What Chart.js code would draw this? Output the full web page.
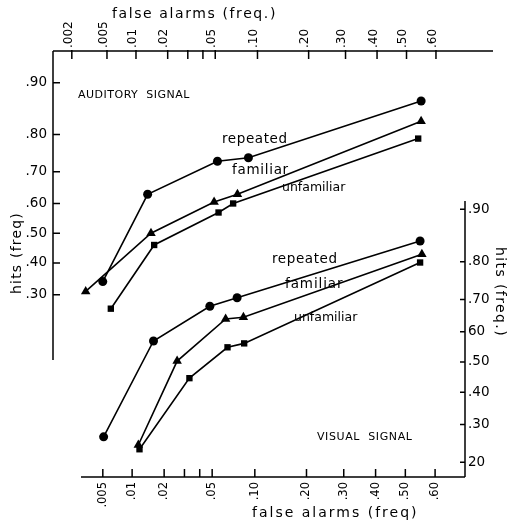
<!DOCTYPE html>
<html>
<head>
<meta charset="utf-8">
<script src="https://cdn.jsdelivr.net/npm/chart.js@4.4.1/dist/chart.umd.min.js"></script>
<style>
  html, body { margin: 0; padding: 0; background: #fff; }
  #wrap { width: 510px; height: 524px; }
</style>
</head>
<body>
<div id="wrap"><canvas id="roc" width="510" height="524"></canvas></div>
<script>
// false alarm / hit frequencies (probability paper)
var audRepFa  = [0.0045, 0.013, 0.052, 0.087, 0.55];
var audRepHit = [0.34, 0.63, 0.73, 0.74, 0.87];
var audFamFa  = [0.0029, 0.014, 0.049, 0.073, 0.55];
var audFamHit = [0.31, 0.50, 0.605, 0.63, 0.83];
var audUnfFa  = [0.0055, 0.015, 0.053, 0.068, 0.54];
var audUnfHit = [0.26, 0.46, 0.57, 0.60, 0.79];

var visRepFa  = [0.0051, 0.016, 0.048, 0.076, 0.55];
var visRepHit = [0.265, 0.57, 0.68, 0.705, 0.845];
var visFamFa  = [0.0115, 0.026, 0.063, 0.084, 0.556];
var visFamHit = [0.243, 0.503, 0.641, 0.646, 0.817];
var visUnfFa  = [0.0118, 0.033, 0.065, 0.085, 0.55];
var visUnfHit = [0.232, 0.446, 0.549, 0.562, 0.798];

// tick values and labels
var topFaTicks  = [0.002, 0.005, 0.01, 0.02, 0.03, 0.04, 0.05, 0.10, 0.20, 0.30, 0.40, 0.50, 0.60];
var topFaLabels = ['.002', '.005', '.01', '.02', '', '', '.05', '.10', '.20', '.30', '.40', '.50', '.60'];
var botFaTicks  = [0.005, 0.01, 0.02, 0.03, 0.04, 0.05, 0.10, 0.20, 0.30, 0.40, 0.50, 0.60];
var botFaLabels = ['.005', '.01', '.02', '', '', '.05', '.10', '.20', '.30', '.40', '.50', '.60'];
var leftHitTicks  = [0.30, 0.40, 0.50, 0.60, 0.70, 0.80, 0.90];
var leftHitLabels = ['.30', '.40', '.50', '.60', '.70', '.80', '.90'];
var rightHitTicks  = [0.20, 0.30, 0.40, 0.50, 0.60, 0.70, 0.80, 0.90];
var rightHitLabels = ['20', '.30', '.40', '.50', '60', '.70', '.80', '.90'];

// inverse normal cdf (Acklam), the axes are normal-deviate scales
function probit(p) {
    var a = [-39.69683028665376, 220.9460984245205, -275.9285104469687, 138.3577518672690, -30.66479806614716, 2.506628277459239];
    var b = [-54.47609879822406, 161.5858368580409, -155.6989798598866, 66.80131188771972, -13.28068155288572];
    var c = [-0.007784894002430293, -0.3223964580411365, -2.400758277161838, -2.549732539343734, 4.374664141464968, 2.938163982698783];
    var d = [0.007784695709041462, 0.3224671290700398, 2.445134137142996, 3.754408661907416];
    var q, r;
    if (p < 0.02425) {
        q = Math.sqrt(-2 * Math.log(p));
        return (((((c[0]*q+c[1])*q+c[2])*q+c[3])*q+c[4])*q+c[5]) / ((((d[0]*q+d[1])*q+d[2])*q+d[3])*q+1);
    }
    if (p > 1 - 0.02425) {
        q = Math.sqrt(-2 * Math.log(1 - p));
        return -(((((c[0]*q+c[1])*q+c[2])*q+c[3])*q+c[4])*q+c[5]) / ((((d[0]*q+d[1])*q+d[2])*q+d[3])*q+1);
    }
    q = p - 0.5;
    r = q * q;
    return (((((a[0]*r+a[1])*r+a[2])*r+a[3])*r+a[4])*r+a[5])*q / (((((b[0]*r+b[1])*r+b[2])*r+b[3])*r+b[4])*r+1);
}

function points(fa, hit) {
    return fa.map(function (f, i) { return { x: probit(f), y: probit(hit[i]) }; });
}

function curve(fa, hit, style, radius, xAxis, yAxis) {
    return {
        data: points(fa, hit),
        showLine: true,
        borderColor: '#000',
        backgroundColor: '#000',
        borderWidth: 1.6,
        pointStyle: style,
        pointRadius: radius,
        pointBorderWidth: 0,
        xAxisID: xAxis,
        yAxisID: yAxis
    };
}

// probit ticks with fixed label list
function probitScale(pos, min, max, tickVals, tickLabels, size, pad, extra) {
    var s = {
        type: 'linear',
        position: pos,
        min: min,
        max: max,
        grid: { display: false, drawTicks: false },
        border: { display: false },
        ticks: {
            autoSkip: false,
            padding: pad,
            color: '#000',
            font: { family: 'DejaVu Sans', size: 13.5 },
            callback: function (v, i) { return tickLabels[i]; }
        },
        afterBuildTicks: function (scale) {
            scale.ticks = tickVals.map(function (p) { return { value: probit(p) }; });
        },
        afterFit: function (scale) {
            if (pos === 'left' || pos === 'right') scale.width = size; else scale.height = size;
        }
    };
    if (extra) Object.assign(s.ticks, extra);
    return s;
}

// axis lines with inward ticks, like the hand-drawn paper
var axesPlugin = {
    id: 'axes',
    afterDraw: function (chart) {
        var ctx = chart.ctx, a = chart.chartArea, sc = chart.scales;
        ctx.save();
        ctx.strokeStyle = '#000';
        ctx.lineWidth = 1.5;
        ctx.beginPath();
        // top
        ctx.moveTo(a.left, a.top); ctx.lineTo(a.right + 28, a.top);
        sc.xTop.ticks.forEach(function (t) {
            var x = sc.xTop.getPixelForValue(t.value);
            ctx.moveTo(x, a.top - 1); ctx.lineTo(x, a.top + 8);
        });
        // left
        ctx.moveTo(a.left, a.top); ctx.lineTo(a.left, a.top + 309);
        sc.yL.ticks.forEach(function (t) {
            var y = sc.yL.getPixelForValue(t.value);
            ctx.moveTo(a.left, y); ctx.lineTo(a.left + 7, y);
        });
        // right
        ctx.moveTo(a.right, a.top + 150); ctx.lineTo(a.right, a.bottom);
        sc.yR.ticks.forEach(function (t) {
            var y = sc.yR.getPixelForValue(t.value);
            ctx.moveTo(a.right, y); ctx.lineTo(a.right - 5, y);
        });
        // bottom
        ctx.moveTo(a.left + 28, a.bottom); ctx.lineTo(a.right, a.bottom);
        sc.xBot.ticks.forEach(function (t) {
            var x = sc.xBot.getPixelForValue(t.value);
            ctx.moveTo(x, a.bottom); ctx.lineTo(x, a.bottom - 8);
        });
        ctx.stroke();
        ctx.restore();
    }
};

// titles and curve names
function note(ctx, text, x, y, size, spacing) {
    ctx.font = size + 'px "DejaVu Sans"';
    ctx.letterSpacing = spacing + 'px';
    ctx.fillText(text, x, y);
}

var textPlugin = {
    id: 'notes',
    afterDraw: function (chart) {
        var ctx = chart.ctx;
        ctx.save();
        ctx.fillStyle = '#000';
        ctx.textBaseline = 'middle';
        ctx.textAlign = 'left';
        note(ctx, 'false alarms (freq.)', 112, 14, 14, 1.6);
        note(ctx, 'false alarms (freq)', 252, 513, 14, 2);
        note(ctx, 'AUDITORY  SIGNAL', 78, 95, 11, 0.5);
        note(ctx, 'VISUAL  SIGNAL', 317, 437, 11, 0.6);
        note(ctx, 'repeated', 222, 139, 13.5, 0.6);
        note(ctx, 'familiar', 232, 170, 13.5, 0.7);
        note(ctx, 'unfamiliar', 282, 188, 12.5, 0);
        note(ctx, 'repeated', 272, 259, 13.5, 0.6);
        note(ctx, 'familiar', 285, 284, 13.5, 0.9);
        note(ctx, 'unfamiliar', 294, 318, 12.5, 0);
        ctx.textAlign = 'center';
        ctx.save();
        ctx.translate(17, 253);
        ctx.rotate(-Math.PI / 2);
        note(ctx, 'hits (freq)', 0, 0, 14, 1.2);
        ctx.restore();
        ctx.save();
        ctx.translate(500, 292);
        ctx.rotate(Math.PI / 2);
        note(ctx, 'hits (freq.)', 0, 0, 14, 1.4);
        ctx.restore();
        ctx.restore();
    }
};

new Chart(document.getElementById('roc'), {
    type: 'scatter',
    data: {
        datasets: [
            curve(audRepFa, audRepHit, 'circle', 4.5, 'xTop', 'yL'),
            curve(audFamFa, audFamHit, 'triangle', 5.5, 'xTop', 'yL'),
            curve(audUnfFa, audUnfHit, 'rect', 4.5, 'xTop', 'yL'),
            curve(visRepFa, visRepHit, 'circle', 4.5, 'xBot', 'yR'),
            curve(visFamFa, visFamHit, 'triangle', 5.5, 'xBot', 'yR'),
            curve(visUnfFa, visUnfHit, 'rect', 4.5, 'xBot', 'yR')
        ]
    },
    options: {
        responsive: false,
        animation: false,
        devicePixelRatio: 1,
        layout: { padding: 0 },
        plugins: { legend: { display: false }, tooltip: { enabled: false } },
        scales: {
            xTop: probitScale('top', -3.04, 0.503, topFaTicks, topFaLabels, 51, 3,
                { minRotation: 90, maxRotation: 90, labelOffset: 11, font: { family: 'DejaVu Sans', size: 12 } }),
            xBot: probitScale('bottom', -3.0, 0.508, botFaTicks, botFaLabels, 47, 5,
                { minRotation: 90, maxRotation: 90, font: { family: 'DejaVu Sans', size: 11.5 } }),
            yL: probitScale('left', -2.078, 1.553, leftHitTicks, leftHitLabels, 53, 6),
            yR: probitScale('right', -0.965, 2.609, rightHitTicks, rightHitLabels, 45, 3)
        }
    },
    plugins: [axesPlugin, textPlugin]
});
</script>
</body>
</html>
